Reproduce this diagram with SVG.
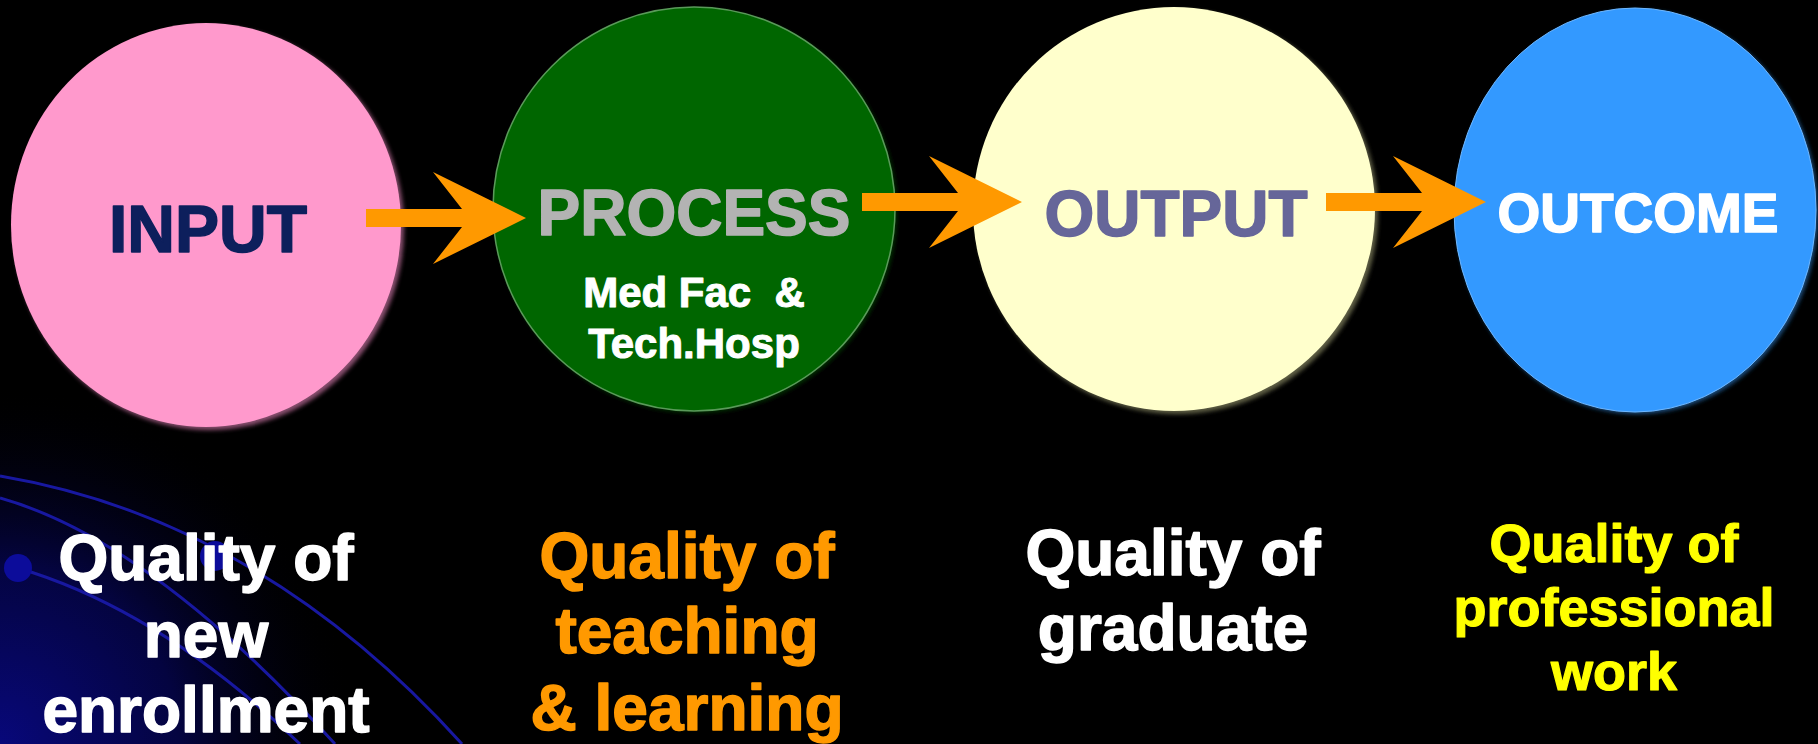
<svg xmlns="http://www.w3.org/2000/svg" width="1818" height="744" viewBox="0 0 1818 744">
<defs>
<radialGradient id="bgGlow" cx="0" cy="744" r="360" gradientUnits="userSpaceOnUse">
<stop offset="0" stop-color="#08087a"/>
<stop offset="0.5" stop-color="#040440"/>
<stop offset="1" stop-color="#000000" stop-opacity="0"/>
</radialGradient>
<filter id="soft" x="-10%" y="-10%" width="120%" height="120%">
<feGaussianBlur stdDeviation="2"/>
</filter>
</defs>
<style>
text{font-family:"Liberation Sans",Arial,sans-serif;font-weight:bold;text-anchor:middle;stroke-linejoin:round}
.big{font-size:64px;stroke-width:1.5}
.deco{fill:none;stroke:#1818a0;stroke-width:3}
.arrow{fill:#ff9900}
</style>
<rect x="0" y="0" width="1818" height="744" fill="#000000"/>
<g id="background">
<rect x="0" y="380" width="380" height="364" fill="url(#bgGlow)"/>
<path class="deco" d="M0,476 Q260,520 462,744"/>
<path class="deco" d="M0,498 Q150,540 335,744"/>
<path class="deco" d="M18,568 Q160,610 300,744"/>
<circle cx="18" cy="568" r="14" fill="#0c0c9a"/>
<circle cx="215" cy="556" r="15" fill="#0c0c9a"/>
</g>
<g id="input">
<ellipse cx="209" cy="228" rx="195" ry="202" fill="#8a4f70" filter="url(#soft)"/>
<ellipse cx="206" cy="225" rx="195" ry="202" fill="#ff99cc"/>
<text x="208" y="252" font-size="66" fill="#0d1f5c" stroke="#0d1f5c" stroke-width="1.5">INPUT</text>
</g>
<g id="process">
<ellipse cx="696" cy="211" rx="201" ry="202" fill="#003300" filter="url(#soft)"/>
<ellipse cx="694" cy="209" rx="201" ry="202" fill="#006600" stroke="#5a9a5a" stroke-width="1.5"/>
<text class="big" x="694" y="235" fill="#b3b3b3" stroke="#b3b3b3">PROCESS</text>
<text x="694" y="307" font-size="42" fill="#ffffff" stroke="#ffffff" stroke-width="1">Med Fac&#160; &amp;</text>
<text x="694" y="358" font-size="42" fill="#ffffff" stroke="#ffffff" stroke-width="1">Tech.Hosp</text>
</g>
<g id="output">
<ellipse cx="1177" cy="212" rx="201" ry="202" fill="#5e5e45" filter="url(#soft)"/>
<ellipse cx="1174" cy="209" rx="201" ry="202" fill="#ffffcc"/>
<text class="big" x="1176" y="236" fill="#666699" stroke="#666699">OUTPUT</text>
</g>
<g id="outcome">
<ellipse cx="1637" cy="212" rx="181" ry="202" fill="#1d4f80" filter="url(#soft)"/>
<ellipse cx="1635" cy="210" rx="181" ry="202" fill="#3399ff" stroke="#6fb7ff" stroke-width="1"/>
<text x="1638" y="232" font-size="55" fill="#ffffff" stroke="#ffffff" stroke-width="1.5">OUTCOME</text>
</g>
<g id="connectors">
<path class="arrow" d="M366,209 L462,209 L433,172 L526,218 L433,264 L462,227 L366,227 Z"/>
<path class="arrow" d="M862,193 L958,193 L929,156 L1022,202 L929,248 L958,211 L862,211 Z"/>
<path class="arrow" d="M1326,193 L1422,193 L1393,156 L1486,202 L1393,248 L1422,211 L1326,211 Z"/>
</g>
<g id="label-input">
<text class="big" fill="#ffffff" stroke="#ffffff"><tspan x="206" y="580">Quality of</tspan><tspan x="206" y="657">new</tspan><tspan x="206" y="732">enrollment</tspan></text>
</g>
<g id="label-process">
<text class="big" fill="#ff9900" stroke="#ff9900"><tspan x="687" y="578">Quality of</tspan><tspan x="687" y="653">teaching</tspan><tspan x="687" y="730">&amp; learning</tspan></text>
</g>
<g id="label-output">
<text class="big" fill="#ffffff" stroke="#ffffff"><tspan x="1173" y="575">Quality of</tspan><tspan x="1173" y="650">graduate</tspan></text>
</g>
<g id="label-outcome">
<text font-size="54" fill="#ffff00" stroke="#ffff00" stroke-width="1.2"><tspan x="1614" y="562">Quality of</tspan><tspan x="1614" y="626">professional</tspan><tspan x="1614" y="690">work</tspan></text>
</g>
</svg>
